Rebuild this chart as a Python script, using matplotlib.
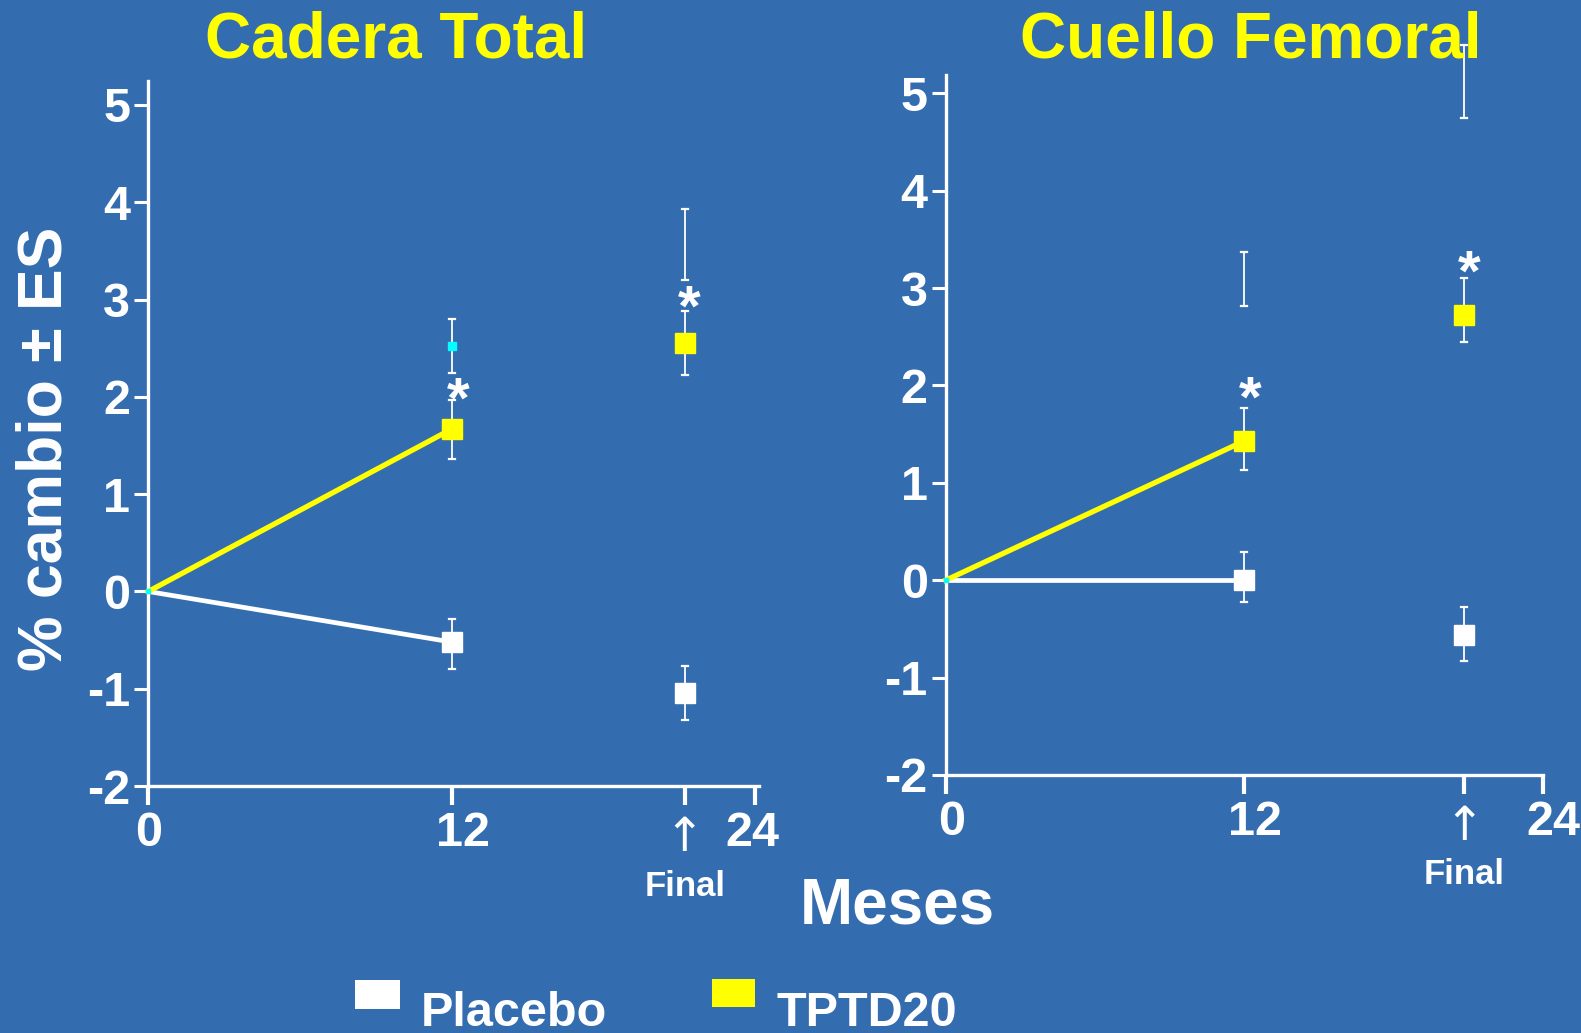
import matplotlib.pyplot as plt
import matplotlib.transforms as mtransforms
from matplotlib.patches import Rectangle

plt.rcParams['font.family'] = ['Liberation Sans', 'DejaVu Sans']
plt.rcParams['font.weight'] = 'bold'

BG = '#346CB0'
YEL = '#FFFF00'
WHITE = 'white'

titles = ['Cadera Total', 'Cuello Femoral']
final_x = [21.2, 20.85]

# placebo: value, lower, upper at 12 and at Final
plac_12 = [(-0.52, -0.80, -0.28), (0.0, -0.22, 0.29)]
plac_fin = [(-1.04, -1.32, -0.77), (-0.56, -0.83, -0.27)]
# TPTD20
tptd_12 = [(1.67, 1.36, 1.97), (1.43, 1.13, 1.77)]
tptd_fin = [(2.55, 2.22, 2.88), (2.72, 2.45, 3.10)]
# stars above TPTD20 points
star_12 = [1.94, 1.83]
star_fin = [2.89, 3.13]
# stray error bars left on the slide (lower, upper)
ghost_12 = [(2.24, 2.80), (2.82, 3.37)]
ghost_fin = [(3.20, 3.93), (4.75, 5.50)]
ghost_marker = 2.52

yticks = [-2, -1, 0, 1, 2, 3, 4, 5]

fig = plt.figure(figsize=(15.81, 10.33), dpi=100, facecolor=BG)

positions = [[0.09375, 0.239, 0.3865, 0.683], [0.5982, 0.2498, 0.3776, 0.6777]]
xlims = [(0, 24.15), (0, 23.85)]
ylims = [(-2, 5.25), (-2, 5.19)]
# small horizontal nudges (points) of x tick labels, as on the slide
label_shift = [[0, 8, 0, -2], [4, 8, 0, 8]]

for i in range(2):
    ax = fig.add_axes(positions[i])
    ax.set_facecolor(BG)
    ax.set_xlim(xlims[i])
    ax.set_ylim(ylims[i])
    for s in ['top', 'right']:
        ax.spines[s].set_visible(False)
    for s in ['left', 'bottom']:
        ax.spines[s].set_color(WHITE)
        ax.spines[s].set_linewidth(2.4)
        ax.spines[s].set_clip_on(False)

    fx = final_x[i]
    # lines to 12 months
    ax.plot([0, 12], [0, plac_12[i][0]], color=WHITE, lw=3.4, zorder=3, clip_on=False)
    ax.plot([0, 12], [0, tptd_12[i][0]], color=YEL, lw=3.8, zorder=3, clip_on=False)

    def bar(x, lo, hi):
        ax.plot([x, x], [lo, hi], color=WHITE, lw=1.3, zorder=2, clip_on=False)
        for yy in (lo, hi):
            ax.plot([x - 0.12, x + 0.12], [yy, yy], color=WHITE, lw=1.6, zorder=2, clip_on=False)

    for (v, lo, hi), x in [(plac_12[i], 12), (plac_fin[i], fx), (tptd_12[i], 12), (tptd_fin[i], fx)]:
        bar(x, lo, hi)
    bar(12, *ghost_12[i])
    bar(fx, *ghost_fin[i])

    ax.plot([12, fx], [plac_12[i][0], plac_fin[i][0]], ls='none', marker='s', ms=15,
            color=WHITE, mec=WHITE, zorder=4)
    ax.plot([12, fx], [tptd_12[i][0], tptd_fin[i][0]], ls='none', marker='s', ms=15,
            color=YEL, mec=YEL, zorder=4)
    if i == 0:
        ax.plot([12], [ghost_marker], ls='none', marker='s', ms=6, color='#00FFFF',
                mec='#00FFFF', zorder=4)
    ax.plot([0], [0], ls='none', marker='s', ms=3, color='#00FFFF', zorder=4, clip_on=False)

    ax.text(12.25, star_12[i], '*', color=WHITE, fontsize=42, ha='center', va='center', zorder=5)
    ax.text(fx + 0.2, star_fin[i], '*', color=WHITE, fontsize=42, ha='center', va='center', zorder=5)

    ax.set_yticks(yticks)
    ax.set_yticklabels([str(t) for t in yticks])
    ax.set_xticks([0, 12, fx, 24])
    ax.set_xticklabels(['0', '12', '', '24'])
    ax.tick_params(axis='y', colors=WHITE, direction='out', length=10, width=2.2,
                   labelsize=35, pad=3)
    ax.tick_params(axis='x', colors=WHITE, direction='out', length=14, width=3,
                   labelsize=35, pad=4)
    for lab, dx in zip(ax.get_xticklabels(), label_shift[i]):
        lab.set_transform(lab.get_transform() +
                          mtransforms.ScaledTranslation(dx / 72, 0, fig.dpi_scale_trans))

    ax.annotate('\u2191', xy=(fx, 0), xycoords=('data', 'axes fraction'),
                xytext=(0, -38), textcoords='offset points', ha='center', va='center',
                color=WHITE, fontsize=34, family='DejaVu Sans', fontweight='normal')
    ax.annotate('Final', xy=(fx, 0), xycoords=('data', 'axes fraction'),
                xytext=(0, -72), textcoords='offset points', ha='center', va='center',
                color=WHITE, fontsize=25)

fig.text(0.2506, 0.961, titles[0], color=YEL, fontsize=46, ha='center', va='center')
fig.text(0.791, 0.961, titles[1], color=YEL, fontsize=46, ha='center', va='center')
fig.text(0.0285, 0.566, '% cambio \u00b1 ES', color=WHITE, fontsize=45, rotation=90,
         ha='center', va='center')
fig.text(0.5676, 0.122, 'Meses', color=WHITE, fontsize=46, ha='center', va='center')

# legend
fig.patches.append(Rectangle((0.2245, 0.0234), 0.0287, 0.0283, transform=fig.transFigure,
                             facecolor=WHITE, edgecolor='none'))
fig.text(0.266, 0.0068, 'Placebo', color=WHITE, fontsize=35, ha='left', va='baseline')
fig.patches.append(Rectangle((0.4503, 0.0254), 0.0274, 0.0273, transform=fig.transFigure,
                             facecolor=YEL, edgecolor='none'))
fig.text(0.491, 0.0068, 'TPTD20', color=WHITE, fontsize=35, ha='left', va='baseline')

fig.savefig('out.png', dpi=100, facecolor=BG)
